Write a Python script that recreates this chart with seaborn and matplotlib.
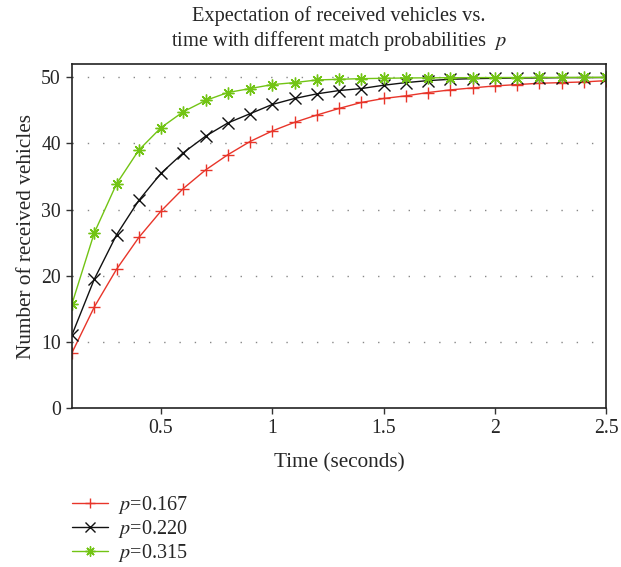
import numpy as np
import pandas as pd
import matplotlib
matplotlib.use("Agg")
import matplotlib.pyplot as plt
import seaborn as sns

time_s = [0.1, 0.2, 0.3, 0.4, 0.5, 0.6, 0.7, 0.8, 0.9, 1.0, 1.1, 1.2, 1.3,
          1.4, 1.5, 1.6, 1.7, 1.8, 1.9, 2.0, 2.1, 2.2, 2.3, 2.4, 2.5]
p_167 = [8.4, 15.3, 21.0, 25.8, 29.8, 33.2, 36.0, 38.3, 40.3, 41.9, 43.2, 44.3, 45.3,
         46.2, 46.8, 47.2, 47.7, 48.1, 48.4, 48.7, 48.9, 49.1, 49.2, 49.3, 49.5]
p_220 = [11.1, 19.5, 26.2, 31.4, 35.5, 38.6, 41.1, 43.1, 44.5, 45.9, 46.8, 47.5, 48.0,
         48.3, 48.8, 49.2, 49.5, 49.7, 49.8, 49.85, 49.9, 49.9, 49.95, 49.95, 49.97]
p_315 = [15.8, 26.5, 33.9, 39.0, 42.4, 44.8, 46.5, 47.7, 48.3, 48.9, 49.2, 49.6, 49.7,
         49.8, 49.85, 49.9, 49.92, 49.94, 49.95, 49.96, 49.97, 49.98, 49.98, 49.99, 49.99]
series_labels = ["$p$=0.167", "$p$=0.220", "$p$=0.315"]
colors = ["#e8352a", "#111111", "#72c414"]
marker_list = ["+", "x", (8, 2, 0)]

df = pd.DataFrame({
    "time": time_s * 3,
    "value": p_167 + p_220 + p_315,
    "series": sum([[lab] * len(time_s) for lab in series_labels], []),
})

sns.set_style("white")
plt.rcParams["font.family"] = ["Liberation Serif", "DejaVu Serif"]
plt.rcParams["mathtext.fontset"] = "stix"

fig = plt.figure(figsize=(6.21, 5.67), dpi=100)
ax = fig.add_axes([0.116, 0.28, 0.86, 0.607])

sns.lineplot(data=df, x="time", y="value", hue="series", style="series",
             palette=dict(zip(series_labels, colors)),
             markers=dict(zip(series_labels, marker_list)), dashes=False,
             markersize=8.5, linewidth=1.0, ax=ax, legend=False)
for ln in ax.get_lines():
    ln.set_markeredgecolor(ln.get_color())
    ln.set_markerfacecolor(ln.get_color())
    ln.set_markeredgewidth(1.0)
    ln.set_linestyle("-")

ax.set_xlim(0.1, 2.5)
ax.set_ylim(0, 52)
ax.set_xticks([0.5, 1, 1.5, 2, 2.5])
ax.set_xticklabels(["0.5", "1", "1.5", "2", "2.5"])
ax.set_yticks([0, 10, 20, 30, 40, 50])
for yv in [10, 20, 30, 40, 50]:
    ax.axhline(yv, color="#888888", linestyle=(0, (1, 10)), linewidth=1.0, zorder=0)
ax.tick_params(axis="both", direction="out", length=4, width=1, labelsize=14.2,
               bottom=True, left=True, color="#333333", pad=4)
for s in ax.spines.values():
    s.set_color("#222222")
    s.set_linewidth(1.2)
    s.set_visible(True)

ax.set_xlabel("Time (seconds)", fontsize=15.3, labelpad=11)
ax.set_ylabel("Number of received vehicles", fontsize=15.3, labelpad=4)
ax.set_title("Expectation of received vehicles vs.\ntime with different match probabilities  $p$",
             fontsize=14.7, pad=13, linespacing=1.15)

handles = ax.get_lines()[:3]
fig.legend(handles, series_labels, loc="upper left", bbox_to_anchor=(0.116, 0.128),
           frameon=False, fontsize=14.5, handlelength=1.8, handletextpad=0.5,
           labelspacing=0.1, borderaxespad=0, borderpad=0, markerscale=0.85)

fig.savefig("out.png", dpi=100)
